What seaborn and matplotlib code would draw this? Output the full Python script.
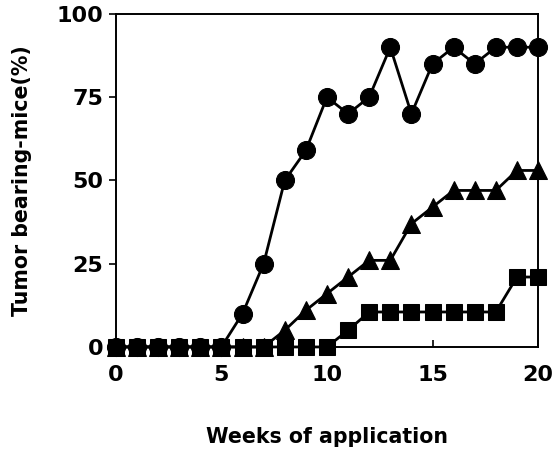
import matplotlib
matplotlib.use('Agg')
import matplotlib.pyplot as plt
import seaborn as sns
import pandas as pd

# Weekly tumor incidence per group
weeks = list(range(21))
circle_pct = [0, 0, 0, 0, 0, 0, 10, 25, 50, 59, 75, 70, 75, 90, 70, 85, 90, 85, 90, 90, 90]
triangle_pct = [0, 0, 0, 0, 0, 0, 0, 0, 5, 11, 16, 21, 26, 26, 37, 42, 47, 47, 47, 53, 53]
square_pct = [0, 0, 0, 0, 0, 0, 0, 0, 0, 0, 0, 5, 10.5, 10.5, 10.5, 10.5, 10.5, 10.5, 10.5, 21, 21]

x_ticks = [0, 5, 10, 15, 20]
y_ticks = [0, 25, 50, 75, 100]

sns.set_style('ticks')
plt.rcParams['font.family'] = ['DejaVu Sans']
plt.rcParams['font.weight'] = 'bold'
plt.rcParams['text.color'] = 'black'
plt.rcParams['axes.labelcolor'] = 'black'
plt.rcParams['xtick.color'] = 'black'
plt.rcParams['ytick.color'] = 'black'
plt.rcParams['axes.edgecolor'] = 'black'

df = pd.DataFrame({'week': weeks, 'circle': circle_pct,
                   'triangle': triangle_pct, 'square': square_pct})

fig = plt.figure(figsize=(5.57, 4.5), dpi=100)
ax = fig.add_axes([0.208, 0.229, 0.758, 0.740])

common = dict(color='black', linewidth=2, markeredgecolor='black',
              clip_on=False, ax=ax)
sns.lineplot(data=df, x='week', y='circle', marker='o', markersize=13, **common)
sns.lineplot(data=df, x='week', y='triangle', marker='^', markersize=13, **common)
sns.lineplot(data=df, x='week', y='square', marker='s', markersize=11.5, **common)

ax.set_xlim(0, 20)
ax.set_ylim(0, 100)
ax.set_xticks(x_ticks)
ax.set_yticks(y_ticks)
ax.tick_params(axis='x', direction='in', length=5, width=1.2, labelsize=16, pad=13)
ax.tick_params(axis='y', direction='out', length=5, width=1.2, labelsize=16, pad=4)
for s in ax.spines.values():
    s.set_linewidth(1.4)
    s.set_visible(True)

ax.set_xlabel('Weeks of application', fontsize=14.8, fontweight='bold', labelpad=30)
ax.set_ylabel('Tumor bearing-mice(%)', fontsize=14.8, fontweight='bold', labelpad=18)

fig.savefig('out.png', dpi=100)
